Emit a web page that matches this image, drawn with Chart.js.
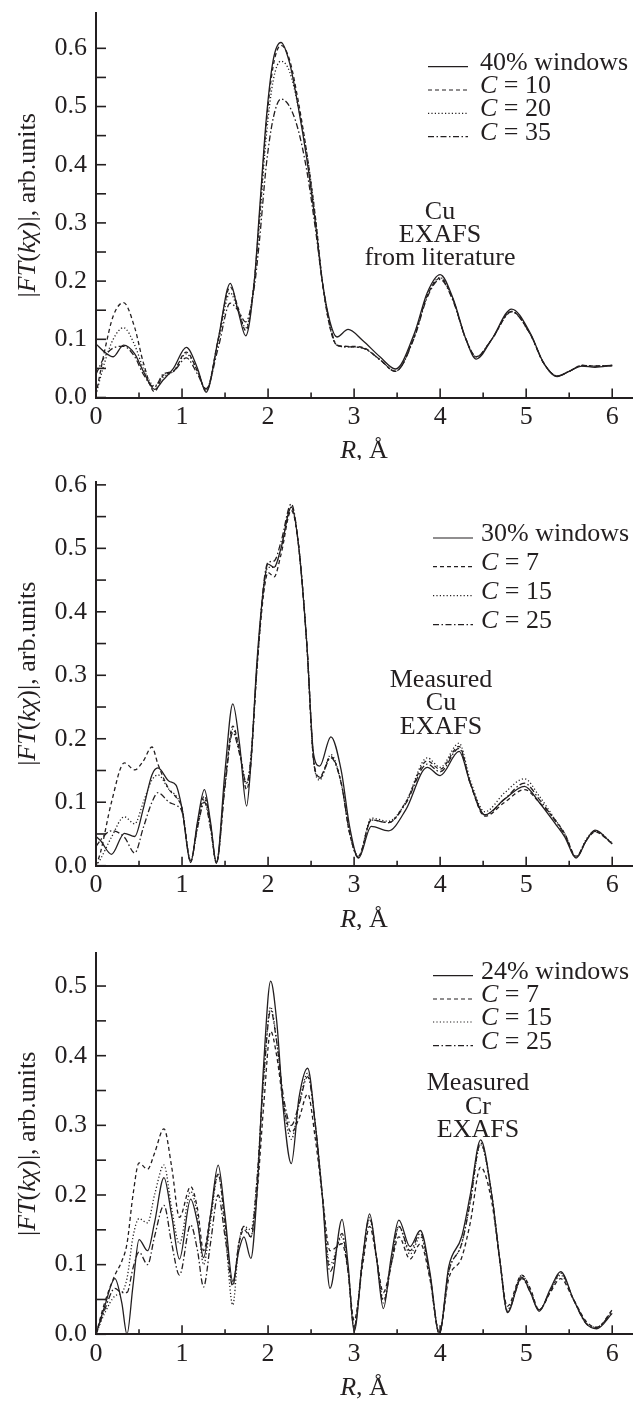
<!DOCTYPE html>
<html>
<head>
<meta charset="utf-8">
<script src="https://cdn.jsdelivr.net/npm/chart.js@4.4.1/dist/chart.umd.min.js"></script>
<style>
  body { margin: 0; background: #fff; }
  #wrap { position: relative; width: 635px; height: 1401px; }
  canvas { position: absolute; left: 0; }
</style>
</head>
<body>
<div id="wrap">
  <canvas id="chart-cu-lit" width="635" height="460" style="top:0"></canvas>
  <canvas id="chart-cu-meas" width="635" height="470" style="top:460px"></canvas>
  <canvas id="chart-cr-meas" width="635" height="471" style="top:930px"></canvas>
</div>
<script>
( function () {
	'use strict';

	// Panel 1 - Cu EXAFS from literature
	const r1 = [0, 0.1, 0.2, 0.32, 0.45, 0.55, 0.68, 0.78, 0.9, 1.05, 1.18, 1.28, 1.42, 1.56, 1.65, 1.74, 1.84, 1.9, 1.98, 2.06, 2.15, 2.25, 2.35, 2.45, 2.55, 2.63, 2.72, 2.8, 2.93, 3.1, 3.3, 3.48, 3.7, 3.85, 4.0, 4.15, 4.3, 4.42, 4.6, 4.83, 5.05, 5.2, 5.36, 5.5, 5.65, 5.8, 6.0];
	const p1Win = [0.092, 0.078, 0.07, 0.09, 0.075, 0.045, 0.014, 0.03, 0.05, 0.086, 0.05, 0.009, 0.1, 0.196, 0.15, 0.106, 0.2, 0.32, 0.48, 0.58, 0.61, 0.575, 0.5, 0.41, 0.3, 0.2, 0.13, 0.104, 0.117, 0.098, 0.07, 0.049, 0.11, 0.18, 0.211, 0.17, 0.1, 0.066, 0.1, 0.152, 0.11, 0.06, 0.036, 0.045, 0.054, 0.052, 0.055];
	const p1C10 = [0.005, 0.08, 0.14, 0.163, 0.12, 0.06, 0.01, 0.038, 0.045, 0.078, 0.045, 0.012, 0.1, 0.19, 0.155, 0.115, 0.2, 0.31, 0.47, 0.57, 0.605, 0.58, 0.51, 0.42, 0.31, 0.2, 0.12, 0.09, 0.088, 0.086, 0.065, 0.045, 0.105, 0.175, 0.205, 0.168, 0.1, 0.07, 0.1, 0.148, 0.108, 0.06, 0.037, 0.045, 0.055, 0.054, 0.055];
	const p1C20 = [0.005, 0.06, 0.1, 0.12, 0.09, 0.05, 0.02, 0.035, 0.045, 0.075, 0.045, 0.012, 0.095, 0.18, 0.15, 0.12, 0.2, 0.3, 0.45, 0.545, 0.578, 0.56, 0.5, 0.42, 0.31, 0.2, 0.12, 0.09, 0.087, 0.085, 0.065, 0.045, 0.105, 0.175, 0.206, 0.168, 0.1, 0.07, 0.1, 0.148, 0.108, 0.06, 0.037, 0.045, 0.055, 0.054, 0.055];
	const p1C35 = [0.04, 0.07, 0.085, 0.088, 0.07, 0.04, 0.018, 0.04, 0.045, 0.068, 0.04, 0.015, 0.085, 0.162, 0.15, 0.13, 0.19, 0.27, 0.4, 0.48, 0.513, 0.5, 0.46, 0.39, 0.29, 0.2, 0.125, 0.09, 0.087, 0.085, 0.065, 0.045, 0.103, 0.172, 0.203, 0.166, 0.1, 0.07, 0.1, 0.147, 0.108, 0.06, 0.037, 0.045, 0.055, 0.054, 0.055];

	// Panel 2 - measured Cu EXAFS
	const r2 = [0, 0.05, 0.18, 0.33, 0.45, 0.55, 0.65, 0.72, 0.85, 0.93, 1.0, 1.1, 1.18, 1.26, 1.33, 1.4, 1.5, 1.59, 1.67, 1.75, 1.8, 1.87, 1.95, 2.0, 2.07, 2.15, 2.27, 2.35, 2.45, 2.53, 2.6, 2.73, 2.85, 2.95, 3.05, 3.2, 3.4, 3.6, 3.85, 4.0, 4.22, 4.35, 4.52, 4.75, 4.98, 5.15, 5.35, 5.45, 5.58, 5.7, 5.8, 6.0];
	const p2Win = [0.046, 0.04, 0.018, 0.051, 0.046, 0.09, 0.143, 0.154, 0.133, 0.127, 0.09, 0.005, 0.07, 0.12, 0.07, 0.004, 0.15, 0.255, 0.19, 0.094, 0.16, 0.32, 0.44, 0.475, 0.47, 0.5, 0.565, 0.51, 0.35, 0.175, 0.157, 0.203, 0.15, 0.06, 0.012, 0.062, 0.055, 0.088, 0.155, 0.142, 0.18, 0.13, 0.08, 0.105, 0.125, 0.1, 0.064, 0.045, 0.012, 0.04, 0.056, 0.034];
	const p2C7 = [0.0, 0.02, 0.1, 0.162, 0.151, 0.165, 0.187, 0.16, 0.12, 0.108, 0.09, 0.006, 0.065, 0.11, 0.065, 0.004, 0.13, 0.22, 0.18, 0.12, 0.16, 0.31, 0.43, 0.462, 0.455, 0.49, 0.56, 0.51, 0.35, 0.165, 0.14, 0.172, 0.13, 0.05, 0.015, 0.072, 0.068, 0.1, 0.165, 0.152, 0.188, 0.13, 0.078, 0.1, 0.12, 0.1, 0.07, 0.05, 0.015, 0.04, 0.053, 0.035];
	const p2C15 = [0.0, 0.01, 0.045, 0.077, 0.066, 0.1, 0.135, 0.143, 0.12, 0.11, 0.09, 0.008, 0.06, 0.105, 0.06, 0.005, 0.13, 0.215, 0.18, 0.13, 0.17, 0.31, 0.44, 0.47, 0.47, 0.5, 0.565, 0.51, 0.35, 0.165, 0.135, 0.175, 0.13, 0.05, 0.014, 0.075, 0.07, 0.1, 0.17, 0.155, 0.193, 0.135, 0.085, 0.115, 0.137, 0.11, 0.07, 0.05, 0.014, 0.042, 0.055, 0.036];
	const p2C25 = [0.03, 0.04, 0.055, 0.045, 0.02, 0.06, 0.1, 0.115, 0.1, 0.095, 0.085, 0.008, 0.06, 0.1, 0.06, 0.006, 0.125, 0.21, 0.175, 0.13, 0.17, 0.31, 0.445, 0.478, 0.48, 0.51, 0.57, 0.51, 0.35, 0.165, 0.138, 0.17, 0.13, 0.05, 0.013, 0.072, 0.068, 0.098, 0.16, 0.148, 0.185, 0.13, 0.08, 0.105, 0.13, 0.105, 0.068, 0.048, 0.013, 0.04, 0.054, 0.035];

	// Panel 3 - measured Cr EXAFS
	const r3 = [0, 0.1, 0.22, 0.3, 0.36, 0.43, 0.5, 0.6, 0.68, 0.79, 0.88, 0.97, 1.1, 1.18, 1.25, 1.33, 1.42, 1.5, 1.59, 1.66, 1.72, 1.8, 1.87, 1.95, 2.03, 2.1, 2.18, 2.27, 2.36, 2.46, 2.55, 2.63, 2.72, 2.86, 2.93, 3.0, 3.1, 3.18, 3.26, 3.34, 3.43, 3.52, 3.65, 3.77, 3.88, 3.99, 4.1, 4.25, 4.35, 4.47, 4.6, 4.7, 4.78, 4.95, 5.05, 5.15, 5.28, 5.4, 5.55, 5.7, 5.82, 6.0];
	const p3Win = [0.0, 0.04, 0.08, 0.045, 0.0, 0.07, 0.136, 0.12, 0.16, 0.225, 0.17, 0.108, 0.194, 0.16, 0.11, 0.17, 0.243, 0.17, 0.076, 0.12, 0.14, 0.109, 0.2, 0.39, 0.507, 0.45, 0.32, 0.245, 0.34, 0.382, 0.3, 0.2, 0.066, 0.165, 0.1, 0.004, 0.11, 0.173, 0.11, 0.037, 0.11, 0.164, 0.126, 0.149, 0.09, 0.0, 0.097, 0.14, 0.2, 0.279, 0.2, 0.1, 0.031, 0.082, 0.06, 0.033, 0.065, 0.09, 0.05, 0.015, 0.008, 0.03];
	const p3C7 = [0.0, 0.045, 0.085, 0.105, 0.13, 0.2, 0.246, 0.237, 0.26, 0.295, 0.24, 0.168, 0.212, 0.18, 0.12, 0.17, 0.23, 0.16, 0.07, 0.13, 0.15, 0.14, 0.2, 0.33, 0.435, 0.4, 0.33, 0.29, 0.31, 0.345, 0.28, 0.2, 0.12, 0.13, 0.09, 0.02, 0.1, 0.155, 0.11, 0.06, 0.1, 0.14, 0.108, 0.13, 0.08, 0.002, 0.08, 0.11, 0.16, 0.24, 0.19, 0.1, 0.04, 0.085, 0.065, 0.035, 0.06, 0.08, 0.05, 0.018, 0.01, 0.035];
	const p3C15 = [0.0, 0.03, 0.055, 0.06, 0.08, 0.14, 0.166, 0.16, 0.2, 0.243, 0.18, 0.13, 0.205, 0.17, 0.1, 0.16, 0.23, 0.15, 0.042, 0.13, 0.155, 0.15, 0.22, 0.37, 0.47, 0.42, 0.33, 0.28, 0.33, 0.375, 0.3, 0.2, 0.1, 0.14, 0.09, 0.01, 0.11, 0.165, 0.11, 0.05, 0.1, 0.155, 0.115, 0.14, 0.085, 0.002, 0.09, 0.13, 0.19, 0.272, 0.2, 0.1, 0.035, 0.085, 0.062, 0.035, 0.062, 0.085, 0.05, 0.016, 0.01, 0.033];
	const p3C25 = [0.0, 0.035, 0.066, 0.06, 0.06, 0.095, 0.118, 0.1, 0.14, 0.185, 0.13, 0.085, 0.157, 0.12, 0.068, 0.13, 0.2, 0.14, 0.07, 0.13, 0.155, 0.14, 0.22, 0.37, 0.465, 0.42, 0.34, 0.3, 0.33, 0.37, 0.3, 0.2, 0.09, 0.145, 0.09, 0.01, 0.11, 0.168, 0.11, 0.045, 0.1, 0.155, 0.12, 0.145, 0.085, 0.003, 0.09, 0.13, 0.19, 0.275, 0.2, 0.1, 0.033, 0.08, 0.06, 0.035, 0.062, 0.088, 0.05, 0.015, 0.01, 0.032];

	// Tick values (labels only on whole numbers / tenths)
	const xTicks = [0, 0.5, 1, 1.5, 2, 2.5, 3, 3.5, 4, 4.5, 5, 5.5, 6];
	const yTicks06 = [0, 0.05, 0.1, 0.15, 0.2, 0.25, 0.3, 0.35, 0.4, 0.45, 0.5, 0.55, 0.6];
	const yTicks05 = [0, 0.05, 0.1, 0.15, 0.2, 0.25, 0.3, 0.35, 0.4, 0.45, 0.5];

	const ink = '#231f20';
	const font = '26px "Liberation Serif", "Times New Roman", serif';
	const fontIt = 'italic ' + font;

	const dashes = {
		solid: [],
		dashed: [4, 3],
		dotted: [1.2, 2.2],
		dashdot: [6, 2.5, 1.5, 2.5]
	};

	function points( xs, ys ){
		return xs.map( function( x, i ){ return { x: x, y: ys[i] }; } );
	}

	// draw text made of [text, italic] parts
	function drawRich( ctx, parts, x, y, align ){
		let total = 0;
		parts.forEach( function( p ){
			ctx.font = p[1] ? fontIt : font;
			total += ctx.measureText(p[0]).width;
		});
		let cx = align === 'center' ? x - total / 2 : x;
		ctx.textAlign = 'left';
		parts.forEach( function( p ){
			ctx.font = p[1] ? fontIt : font;
			ctx.fillText(p[0], cx, y);
			cx += ctx.measureText(p[0]).width;
		});
	}

	// Axis titles, inward ticks, legend and note
	const panelDecor = {
		id: 'panelDecor',
		afterDraw: function( chart, args, opts ){
			const ctx = chart.ctx;
			const area = chart.chartArea;
			const xs = chart.scales.x, ys = chart.scales.y;

			ctx.save();
			ctx.strokeStyle = ink;
			ctx.fillStyle = ink;
			ctx.lineWidth = 1.6;
			ctx.setLineDash([]);

			ys.ticks.forEach( function( t ){
				const py = ys.getPixelForValue(t.value);
				ctx.beginPath();
				ctx.moveTo(area.left, py);
				ctx.lineTo(area.left + 10, py);
				ctx.stroke();
			});
			xs.ticks.forEach( function( t ){
				const px = xs.getPixelForValue(t.value);
				const len = Number.isInteger(t.value) ? 9 : 5;
				ctx.beginPath();
				ctx.moveTo(px, area.bottom);
				ctx.lineTo(px, area.bottom - len);
				ctx.stroke();
			});

			ctx.textBaseline = 'middle';

			// x title
			drawRich(ctx, [['R', true], [', Å', false]], (area.left + area.right) / 2, area.bottom + 54, 'center');

			// y title
			ctx.save();
			ctx.translate(28, (area.top + area.bottom) / 2);
			ctx.rotate(-Math.PI / 2);
			drawRich(ctx, [['|', false], ['FT', true], ['(', false], ['kχ', true], [')|, arb.units', false]], 0, 0, 'center');
			ctx.restore();

			// legend
			opts.legend.forEach( function( item, i ){
				const y = opts.legendY[i];
				ctx.lineWidth = 1.2;
				ctx.setLineDash(dashes[item.style]);
				ctx.beginPath();
				ctx.moveTo(opts.lineX[0], y + 4);
				ctx.lineTo(opts.lineX[1], y + 4);
				ctx.stroke();
				ctx.setLineDash([]);
				drawRich(ctx, item.text, opts.textX, y, 'left');
			});

			// note
			opts.note.forEach( function( line, i ){
				drawRich(ctx, [[line, false]], opts.noteX, opts.noteY[i], 'center');
			});

			ctx.restore();
		}
	};

	function makePanel( id, cfg ){
		const canvas = document.getElementById(id);
		const H = canvas.height;
		const styles = ['solid', 'dashed', 'dotted', 'dashdot'];

		const datasets = cfg.series.map( function( ys, i ){
			return {
				label: cfg.legend[i].text.map( function( p ){ return p[0]; } ).join(''),
				data: points(cfg.r, ys),
				borderColor: ink,
				borderWidth: 1.3,
				borderDash: dashes[styles[i]],
				pointRadius: 0,
				fill: false,
				cubicInterpolationMode: 'monotone'
			};
		});

		return new Chart(canvas, {
			type: 'line',
			data: { datasets: datasets },
			options: {
				responsive: false,
				animation: false,
				devicePixelRatio: 1,
				layout: { padding: { top: cfg.top, right: 3, left: 0, bottom: 0 } },
				scales: {
					x: {
						type: 'linear',
						min: 0,
						max: 6.23,
						grid: { display: false, drawTicks: false },
						border: { display: true, color: ink, width: 2 },
						ticks: {
							color: ink,
							font: { family: '"Liberation Serif", serif', size: 26 },
							padding: 4,
							maxRotation: 0,
							autoSkip: false,
							callback: function( v ){ return Number.isInteger(v) ? String(v) : ''; }
						},
						afterBuildTicks: function( scale ){
							scale.ticks = xTicks.map( function( v ){ return { value: v }; } );
						},
						afterFit: function( scale ){
							scale.height = H - cfg.bottom;
							scale.paddingLeft = 0;
							scale.paddingRight = 0;
						}
					},
					y: {
						min: 0,
						max: cfg.yMax,
						grid: { display: false, drawTicks: false },
						border: { display: true, color: ink, width: 2 },
						ticks: {
							color: ink,
							font: { family: '"Liberation Serif", serif', size: 26 },
							padding: 9,
							autoSkip: false,
							callback: function( v ){
								const t = Math.round(v * 100);
								return t % 10 === 0 ? (t / 100).toFixed(1) : '';
							}
						},
						afterBuildTicks: function( scale ){
							scale.ticks = cfg.yTicks.map( function( v ){ return { value: v }; } );
						},
						afterFit: function( scale ){
							scale.width = 96;
							scale.paddingTop = 0;
							scale.paddingBottom = 0;
						}
					}
				},
				plugins: {
					legend: { display: false },
					tooltip: { enabled: false },
					panelDecor: {
						legend: cfg.legend,
						legendY: cfg.legendY,
						lineX: cfg.lineX,
						textX: cfg.textX,
						note: cfg.note,
						noteX: cfg.noteX,
						noteY: cfg.noteY
					}
				}
			},
			plugins: [panelDecor]
		});
	}

	makePanel('chart-cu-lit', {
		r: r1,
		series: [p1Win, p1C10, p1C20, p1C35],
		top: 13, bottom: 397.5, yMax: 0.6607, yTicks: yTicks06,
		legend: [
			{ style: 'solid', text: [['40% windows', false]] },
			{ style: 'dashed', text: [['C', true], [' = 10', false]] },
			{ style: 'dotted', text: [['C', true], [' = 20', false]] },
			{ style: 'dashdot', text: [['C', true], [' = 35', false]] }
		],
		legendY: [62.7, 86, 109.3, 132.7], lineX: [428, 468], textX: 480,
		note: ['Cu', 'EXAFS', 'from literature'], noteX: 440, noteY: [212, 235, 258]
	});

	makePanel('chart-cu-meas', {
		r: r2,
		series: [p2Win, p2C7, p2C15, p2C25],
		top: 21.7, bottom: 405.7, yMax: 0.605, yTicks: yTicks06,
		legend: [
			{ style: 'solid', text: [['30% windows', false]] },
			{ style: 'dashed', text: [['C', true], [' = 7', false]] },
			{ style: 'dotted', text: [['C', true], [' = 15', false]] },
			{ style: 'dashdot', text: [['C', true], [' = 25', false]] }
		],
		legendY: [74, 102.7, 131.7, 160.7], lineX: [433, 473], textX: 481,
		note: ['Measured', 'Cu', 'EXAFS'], noteX: 441, noteY: [220, 243.5, 267]
	});

	makePanel('chart-cr-meas', {
		r: r3,
		series: [p3Win, p3C7, p3C15, p3C25],
		top: 23.3, bottom: 404.3, yMax: 0.547, yTicks: yTicks05,
		legend: [
			{ style: 'solid', text: [['24% windows', false]] },
			{ style: 'dashed', text: [['C', true], [' = 7', false]] },
			{ style: 'dotted', text: [['C', true], [' = 15', false]] },
			{ style: 'dashdot', text: [['C', true], [' = 25', false]] }
		],
		legendY: [41.7, 65, 88, 111.7], lineX: [433, 473], textX: 481,
		note: ['Measured', 'Cr', 'EXAFS'], noteX: 478, noteY: [153, 177, 200]
	});

} )();
</script>
</body>
</html>
